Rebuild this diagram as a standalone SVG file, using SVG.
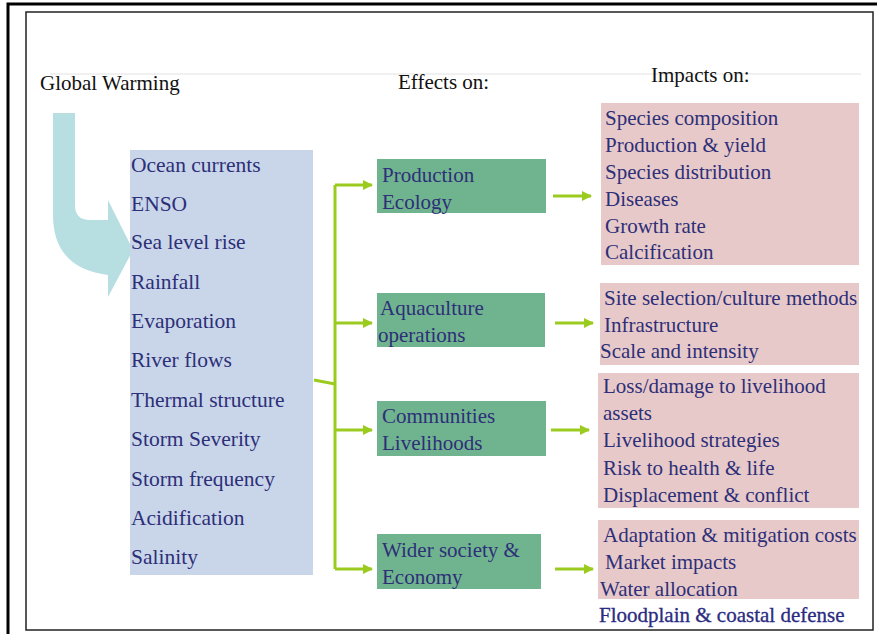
<svg xmlns="http://www.w3.org/2000/svg" width="877" height="634" viewBox="0 0 877 634">
  <style>
    .t { font-family: "Liberation Serif", "Times New Roman", serif; font-size: 21px; fill: #2d2f78; }
    .d { font-size: 21.5px; }
    .h { font-family: "Liberation Serif", "Times New Roman", serif; font-size: 21px; fill: #111; }
    .drv { fill: #c9d6ea; }
    .eff { fill: #70b48f; }
    .imp { fill: #e8c9c9; }
    .link { stroke: #9bcb1e; stroke-width: 3; fill: none; }
  </style>
  <defs>
    <marker id="head" viewBox="0 0 10 10" refX="9" refY="5" markerWidth="3.4" markerHeight="3.4" orient="auto" markerUnits="strokeWidth">
      <path d="M0,0 L10,5 L0,10 Z" fill="#9bcb1e"/>
    </marker>
  </defs>

  <rect width="877" height="634" fill="#fff"/>

  <!-- page frames -->
  <path d="M8,634 L8,4 L877,4" fill="none" stroke="#000" stroke-width="3"/>
  <rect x="26" y="12" width="847" height="618" fill="none" stroke="#222" stroke-width="1.5"/>
  <line x1="50" y1="74" x2="861" y2="74" stroke="#e2e2e2" stroke-width="1"/>

  <!-- column headings -->
  <g id="headings">
    <text class="h" x="40" y="90">Global Warming</text>
    <text class="h" x="398" y="89">Effects on:</text>
    <text class="h" x="651" y="82">Impacts on:</text>
  </g>

  <!-- bent arrow from heading into the drivers list -->
  <path id="warming-arrow" d="M53,113 L75,113 L75,205 Q75,220 90,220 L108,220 L108,200 L133,250 L108,297 L108,275 Q53,268 53,215 Z" fill="#b7dfe2"/>

  <!-- drivers -->
  <g id="drivers">
    <rect class="drv" x="130" y="150" width="183" height="425"/>
    <text class="t d" x="131" y="172">Ocean currents</text>
    <text class="t d" x="131" y="211">ENSO</text>
    <text class="t d" x="131" y="249">Sea level rise</text>
    <text class="t d" x="131" y="289">Rainfall</text>
    <text class="t d" x="131" y="328">Evaporation</text>
    <text class="t d" x="131" y="367">River flows</text>
    <text class="t d" x="131" y="407">Thermal structure</text>
    <text class="t d" x="131" y="446">Storm Severity</text>
    <text class="t d" x="131" y="486">Storm frequency</text>
    <text class="t d" x="131" y="525">Acidification</text>
    <text class="t d" x="131" y="564">Salinity</text>
  </g>

  <!-- effects -->
  <g id="production-ecology">
    <rect class="eff" x="377" y="159" width="169" height="54"/>
    <text class="t" x="382" y="182">Production</text>
    <text class="t" x="382" y="209">Ecology</text>
  </g>
  <g id="aquaculture-operations">
    <rect class="eff" x="377" y="293" width="168" height="54"/>
    <text class="t" x="380" y="315">Aquaculture</text>
    <text class="t" x="378" y="342">operations</text>
  </g>
  <g id="communities-livelihoods">
    <rect class="eff" x="377" y="401" width="169" height="55"/>
    <text class="t" x="382" y="423">Communities</text>
    <text class="t" x="382" y="450">Livelihoods</text>
  </g>
  <g id="wider-society">
    <rect class="eff" x="377" y="534" width="164" height="55"/>
    <text class="t" x="382" y="557">Wider society &amp;</text>
    <text class="t" x="382" y="584">Economy</text>
  </g>

  <!-- impacts -->
  <g id="impacts-ecology">
    <rect class="imp" x="601" y="103" width="258" height="162"/>
    <text class="t" x="605" y="125">Species composition</text>
    <text class="t" x="605" y="152">Production &amp; yield</text>
    <text class="t" x="605" y="179">Species distribution</text>
    <text class="t" x="605" y="206">Diseases</text>
    <text class="t" x="605" y="233">Growth rate</text>
    <text class="t" x="605" y="259">Calcification</text>
  </g>
  <g id="impacts-aquaculture">
    <rect class="imp" x="600" y="283" width="259" height="82"/>
    <text class="t" x="604" y="305">Site selection/culture methods</text>
    <text class="t" x="604" y="332">Infrastructure</text>
    <text class="t" x="600" y="358">Scale and intensity</text>
  </g>
  <g id="impacts-communities">
    <rect class="imp" x="598" y="373" width="261" height="135"/>
    <text class="t" x="603" y="393">Loss/damage to livelihood</text>
    <text class="t" x="603" y="420">assets</text>
    <text class="t" x="603" y="447">Livelihood strategies</text>
    <text class="t" x="603" y="475">Risk to health &amp; life</text>
    <text class="t" x="603" y="502">Displacement &amp; conflict</text>
  </g>
  <g id="impacts-society">
    <rect class="imp" x="598" y="520" width="261" height="79"/>
    <text class="t" x="603" y="542">Adaptation &amp; mitigation costs</text>
    <text class="t" x="605" y="569">Market impacts</text>
    <text class="t" x="600" y="596">Water allocation</text>
    <text class="t" x="599" y="622" fill="#23238f" stroke="#23238f" stroke-width="0.3">Floodplain &amp; coastal defense</text>
  </g>

  <!-- connectors -->
  <g id="connectors">
    <path class="link" d="M314,380 L335,384"/>
    <path class="link" d="M335,185 L335,569"/>
    <path class="link" d="M335,185 L372,185" marker-end="url(#head)"/>
    <path class="link" d="M335,323 L372,323" marker-end="url(#head)"/>
    <path class="link" d="M335,430 L372,430" marker-end="url(#head)"/>
    <path class="link" d="M335,569 L372,569" marker-end="url(#head)"/>
    <path class="link" d="M553,196 L591,196" marker-end="url(#head)"/>
    <path class="link" d="M555,323 L593,323" marker-end="url(#head)"/>
    <path class="link" d="M551,430 L589,430" marker-end="url(#head)"/>
    <path class="link" d="M555,569 L593,569" marker-end="url(#head)"/>
  </g>
</svg>
